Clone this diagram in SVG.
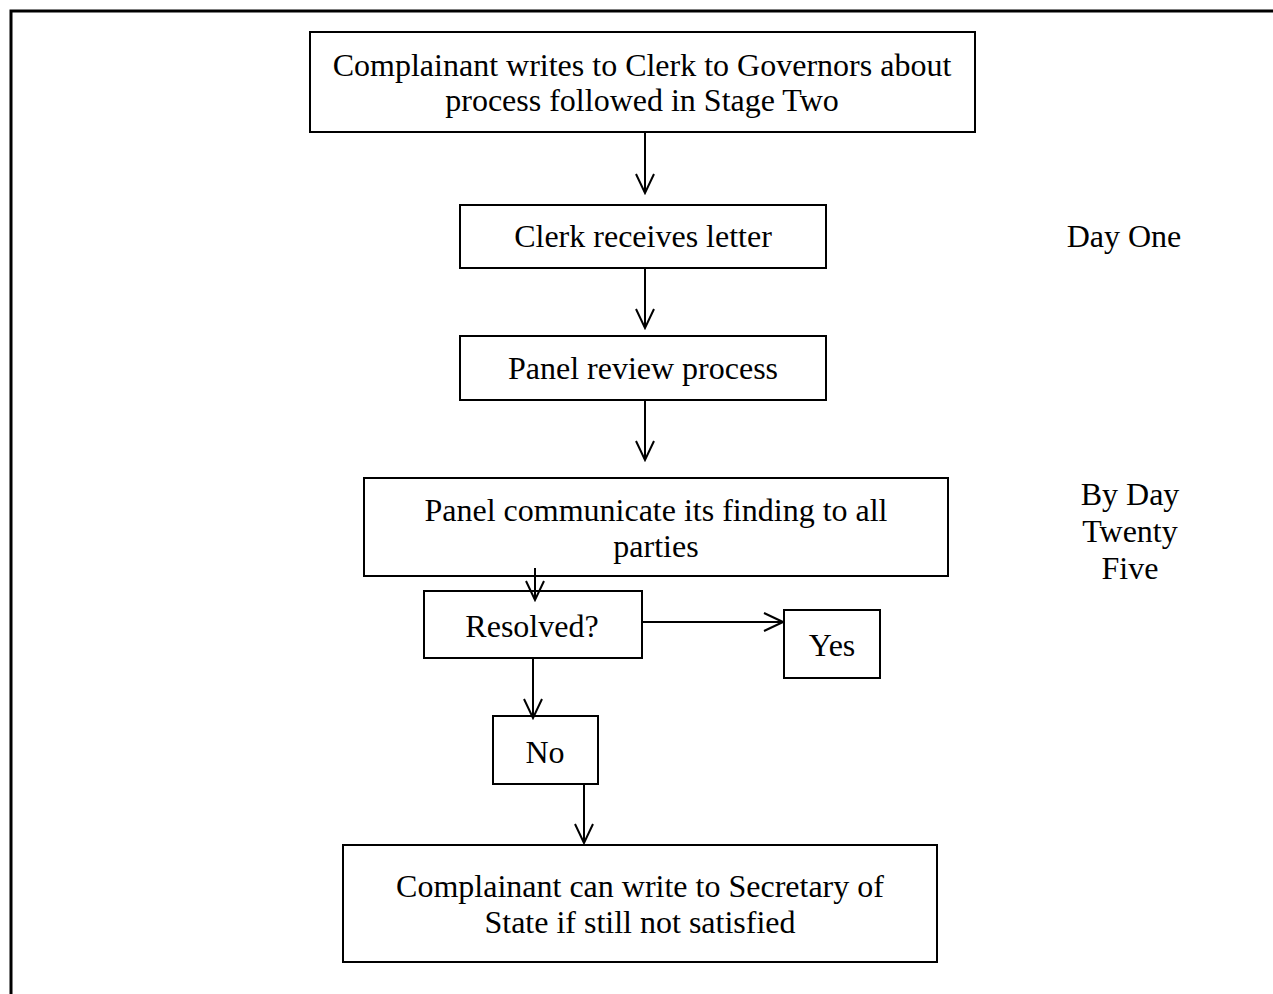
<svg xmlns="http://www.w3.org/2000/svg" width="1273" height="994" viewBox="0 0 1273 994">
<style>
.box{fill:#fff;stroke:#000;stroke-width:2}
.t{font-family:"Liberation Serif","Times New Roman",serif;font-size:32px;fill:#000;text-anchor:middle}
.c{stroke:#000;stroke-width:2;fill:none}
</style>
<defs>
<marker id="ah" markerWidth="22" markerHeight="22" refX="20" refY="11" orient="auto" markerUnits="userSpaceOnUse">
<path d="M1,2 L20,11 L1,20" fill="none" stroke="#000" stroke-width="2"/>
</marker>
</defs>
<rect width="1273" height="994" fill="#fff"/>
<path d="M11,1000 L11,11 L1280,11" fill="none" stroke="#000" stroke-width="3"/>
<g id="n1"><rect class="box" x="310" y="32" width="665" height="100"/><text class="t" x="642" y="76">Complainant writes to Clerk to Governors about</text><text class="t" x="642" y="111">process followed in Stage Two</text></g>
<g id="n2"><rect class="box" x="460" y="205" width="366" height="63"/><text class="t" x="643" y="247">Clerk receives letter</text></g>
<g id="n3"><rect class="box" x="460" y="336" width="366" height="64"/><text class="t" x="643" y="379">Panel review process</text></g>
<g id="n4"><rect class="box" x="364" y="478" width="584" height="98"/><text class="t" x="656" y="521">Panel communicate its finding to all</text><text class="t" x="656" y="557">parties</text></g>
<g id="n5"><rect class="box" x="424" y="591" width="218" height="67"/><text class="t" x="532" y="637">Resolved?</text></g>
<g id="n6"><rect class="box" x="784" y="610" width="96" height="68"/><text class="t" x="832" y="656">Yes</text></g>
<g id="n7"><rect class="box" x="493" y="716" width="105" height="68"/><text class="t" x="545" y="763">No</text></g>
<g id="n8"><rect class="box" x="343" y="845" width="594" height="117"/><text class="t" x="640" y="897">Complainant can write to Secretary of</text><text class="t" x="640" y="933">State if still not satisfied</text></g>
<g id="n9"><text class="t" x="1124" y="247">Day One</text></g>
<g id="n10"><text class="t" x="1130" y="505">By Day</text><text class="t" x="1130" y="542">Twenty</text><text class="t" x="1130" y="579">Five</text></g>
<g id="connectors">
<line class="c" x1="645" y1="132" x2="645" y2="193" marker-end="url(#ah)"/>
<line class="c" x1="645" y1="268" x2="645" y2="328" marker-end="url(#ah)"/>
<line class="c" x1="645" y1="400" x2="645" y2="460" marker-end="url(#ah)"/>
<line class="c" x1="535" y1="568" x2="535" y2="600" marker-end="url(#ah)"/>
<line class="c" x1="642" y1="622" x2="783" y2="622" marker-end="url(#ah)"/>
<line class="c" x1="533" y1="658" x2="533" y2="718" marker-end="url(#ah)"/>
<line class="c" x1="584" y1="784" x2="584" y2="843" marker-end="url(#ah)"/>
</g>
</svg>
